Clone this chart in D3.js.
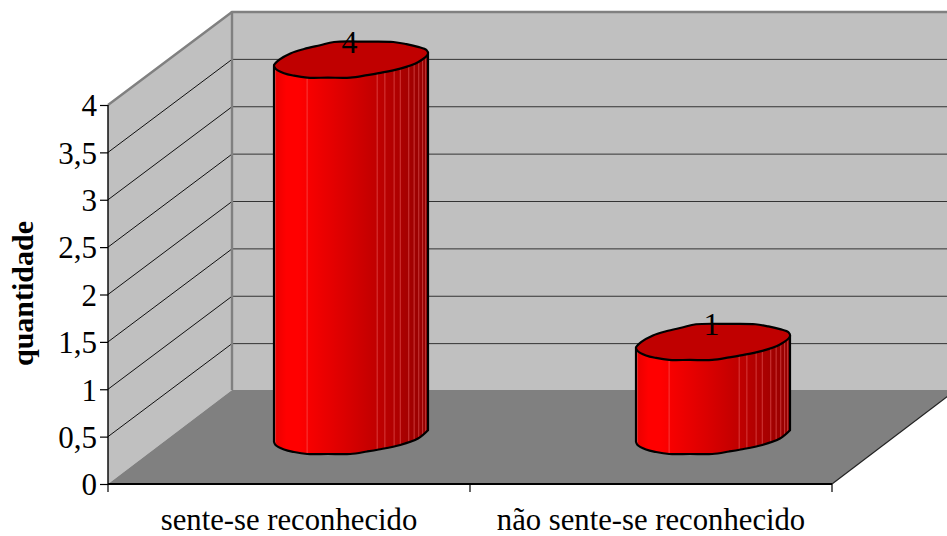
<!DOCTYPE html>
<html>
<head>
<meta charset="utf-8">
<script src="https://cdn.jsdelivr.net/npm/d3@7/dist/d3.min.js"></script>
<style>
html,body{margin:0;padding:0;background:#fff;overflow:hidden}
svg{display:block}
text{font-family:"Liberation Serif",serif;fill:#000}
</style>
</head>
<body>
<svg id="chart" width="947" height="536"></svg>
<script>
const categories = ["sente-se reconhecido", "não sente-se reconhecido"];
const values = [4, 1];
const yTicks = [0, 0.5, 1, 1.5, 2, 2.5, 3, 3.5, 4];
const yTitle = "quantidade";
// Facet seams along the cylinder wall, as a fraction of its width
const seams = [0.01, 0.215, 0.67, 0.72, 0.78, 0.82, 0.875, 0.91, 0.94, 0.965, 0.985];
// Faceted rim of a cylinder, in fractions of its radii, clockwise from the left end
const rimFront = [[-1, .32], [-.98, .5], [-.87, .75], [-.74, .89], [-.57, 1], [-.3, 1], [-.01, 1], [.21, .86], [.36, .75], [.64, .5], [.87, .14], [1, -.32]];
const rimBack = [[.98, -.54], [.87, -.71], [.72, -.86], [.55, -.98], [.2, -1], [-.22, -.98], [-.4, -.8], [-.61, -.59], [-.78, -.36], [-.93, 0]];

const svg = d3.select("#chart");
const depth = {dx: 124, dy: -94};
const y = d3.scaleLinear().domain([0, 4]).range([484, 105]);
const x = d3.scaleBand().domain(categories).range([108, 832]);
const px = (a, b) => d3.line()([a, b]);

const defs = svg.append("defs");
const grad = defs.append("linearGradient").attr("id", "wall");
[[0, "#e80000"], [0.08, "#ff0000"], [0.16, "#ff0000"], [0.45, "#dc0000"], [0.7, "#bc0000"], [0.85, "#a80000"], [1, "#920000"]]
  .forEach(([o, c]) => grad.append("stop").attr("offset", o).attr("stop-color", c));

// Walls and floor of the 3D box
const x0 = x.range()[0], x1 = x.range()[1], y0 = y(0), yT = y(4);
const poly = pts => d3.line()(pts) + "Z";
svg.append("path").attr("fill", "#c0c0c0")
  .attr("d", poly([[x0, y0], [x0, yT], [x0 + depth.dx, yT + depth.dy + 1], [x0 + depth.dx, y0 + depth.dy]]));
svg.append("path").attr("fill", "#c0c0c0")
  .attr("d", poly([[x0 + depth.dx, yT + depth.dy + 1], [x1 + depth.dx, yT + depth.dy + 1], [x1 + depth.dx, y0 + depth.dy], [x0 + depth.dx, y0 + depth.dy]]));
svg.append("path").attr("fill", "#808080")
  .attr("d", poly([[x0, y0], [x1, y0], [x1 + depth.dx, y0 + depth.dy], [x0 + depth.dx, y0 + depth.dy]]));

// Gridlines on both walls
yTicks.filter(t => t > 0 && t < 4).forEach(t => {
  const g = y(t);
  svg.append("path").attr("fill", "none").attr("stroke", "#111").attr("stroke-width", 1)
    .attr("d", px([x0, g], [x0 + depth.dx, g + depth.dy + 1]));
  svg.append("path").attr("fill", "none").attr("stroke", "#333").attr("stroke-width", 1)
    .attr("d", px([x0 + depth.dx, g + depth.dy + 1], [x1 + depth.dx, g + depth.dy + 1]));
});

// Grey wall frame
svg.append("path").attr("fill", "none").attr("stroke", "#808080").attr("stroke-width", 2.4)
  .attr("d", d3.line()([[x0, yT], [x0 + depth.dx, yT + depth.dy + 1], [x1 + depth.dx, yT + depth.dy + 1]]));
svg.append("path").attr("fill", "none").attr("stroke", "#808080").attr("stroke-width", 2.4)
  .attr("d", px([x0 + depth.dx, yT + depth.dy], [x0 + depth.dx, y0 + depth.dy]));

// Right floor edge
svg.append("path").attr("fill", "none").attr("stroke", "#222").attr("stroke-width", 1.2)
  .attr("d", px([x1, y0], [x1 + depth.dx, y0 + depth.dy]));

// Cylinders, standing halfway into the depth of the box
const rx = 77, ry = 18;
const base = y0 + depth.dy / 2 - 1;
const rimY = d3.scaleLinear().domain(rimFront.map(p => p[0])).range(rimFront.map(p => p[1]));
const smoothOpen = d3.line().curve(d3.curveCatmullRom.alpha(0.5));
const smoothClosed = d3.line().curve(d3.curveCatmullRomClosed.alpha(0.5));
const bars = svg.selectAll("g.bar").data(categories.map((c, i) => ({c, v: values[i]})))
  .join("g").attr("class", "bar");
bars.each(function (d) {
  const g = d3.select(this);
  const cx = x(d.c) + x.bandwidth() / 2 + depth.dx / 2;
  const top = base - (y0 - y(d.v)) * 0.993;
  const at = cy => ([fx, fy]) => [cx + fx * rx, cy + fy * ry];
  const right = at(top)(rimFront[rimFront.length - 1]), left = at(top)(rimFront[0]);
  const wall = smoothOpen(rimFront.map(at(base))) + `L${right}L${left}Z`;
  g.append("path").attr("d", wall).attr("fill", "url(#wall)");
  seams.forEach(s => {
    const f = s * 2 - 1;
    const sx = cx + f * rx;
    g.append("path").attr("d", px([sx, top + rimY(f) * ry], [sx, base + rimY(f) * ry]))
      .attr("stroke", "#ff8080").attr("stroke-opacity", 0.45).attr("stroke-width", 1).attr("fill", "none");
  });
  g.append("path").attr("d", wall).attr("fill", "none").attr("stroke", "#000")
    .attr("stroke-width", 2.2).attr("stroke-linejoin", "round");
  g.append("path").attr("d", smoothClosed([...rimFront, ...rimBack].map(at(top)))).attr("fill", "#c00000")
    .attr("stroke", "#000").attr("stroke-width", 2.2).attr("stroke-linejoin", "round");
  g.append("text").attr("x", cx - 1.5).attr("y", top - 7).attr("text-anchor", "middle")
    .attr("font-size", 32).text(d.v);
});

// Value axis
const yAxis = d3.axisLeft(y).tickValues(yTicks).tickSize(8).tickPadding(3)
  .tickFormat(d => String(d).replace(".", ","));
const gy = svg.append("g").attr("transform", `translate(${x0},0)`).call(yAxis);
gy.select(".domain").attr("stroke", "#000").attr("stroke-width", 1.4).attr("d", `M0,${yT}V${y0}`);
gy.selectAll("line").attr("stroke", "#000").attr("stroke-width", 1.2);
gy.selectAll("text").attr("font-size", 31).attr("dy", "0.35em").attr("font-family", '"Liberation Serif",serif').attr("fill", "#000");

// Category axis: ticks sit at the band edges
const gx = svg.append("g").attr("transform", `translate(0,${y0})`)
  .call(d3.axisBottom(x).tickSize(0).tickPadding(24));
gx.select(".domain").attr("stroke", "#000").attr("stroke-width", 2).attr("d", `M${x0},0H${x1}`);
gx.selectAll("text").attr("font-size", 30.7).attr("font-family", '"Liberation Serif",serif').attr("fill", "#000");
[...categories.map(c => x(c)), x1].forEach(tx => {
  gx.append("line").attr("x1", tx).attr("x2", tx).attr("y1", 0).attr("y2", 8)
    .attr("stroke", "#000").attr("stroke-width", 1.2);
});

// Axis title
svg.append("text").attr("transform", "translate(33,293.5) rotate(-90)")
  .attr("text-anchor", "middle").attr("font-size", 30).attr("font-weight", "bold").text(yTitle);
</script>
</body>
</html>
